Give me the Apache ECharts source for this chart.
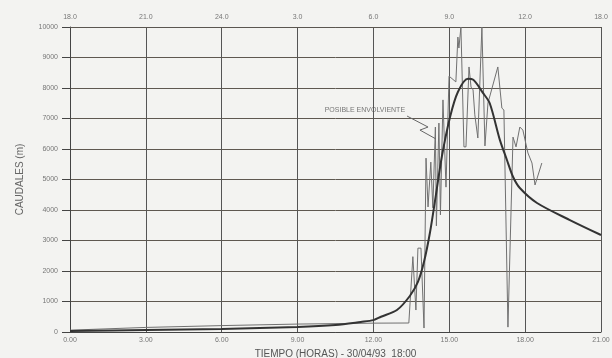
<!DOCTYPE html>
<html><head><meta charset="utf-8">
<script src="https://cdn.jsdelivr.net/npm/echarts@6/dist/echarts.min.js"></script>
<style>html,body{margin:0;padding:0;background:#f3f3f1}#c{width:612px;height:358px}</style>
</head><body><div id="c"></div>
<script>
// Observed discharge (thin line)
const obsTime = [0, 3, 6, 9, 12, 13.40, 13.56, 13.68, 13.76, 13.88, 14.00, 14.08, 14.16, 14.27, 14.35, 14.45, 14.49, 14.59, 14.65, 14.75, 14.87, 14.99, 15.26, 15.34, 15.38, 15.46, 15.50, 15.58, 15.66, 15.78, 15.86, 15.94, 16.01, 16.13, 16.29, 16.41, 16.53, 16.92, 17.08, 17.16, 17.32, 17.52, 17.64, 17.79, 17.91, 18.11, 18.27, 18.39, 18.66];
const obsFlow = [60, 150, 210, 260, 290, 295, 2470, 720, 2750, 2750, 130, 5700, 4100, 5570, 4070, 6720, 3480, 6850, 3840, 7610, 4750, 8390, 8200, 9670, 9310, 10000, 10000, 6070, 6070, 8690, 8030, 7940, 7120, 6360, 10000, 6100, 7510, 8690, 7340, 7280, 160, 6390, 6070, 6720, 6620, 5870, 5540, 4820, 5540];
// Possible envelope (thick smooth line)
const envTime = [0, 3, 6, 9, 10.5, 11.5, 12, 12.3, 12.93, 13.44, 13.76, 14.0, 14.24, 14.47, 14.71, 15.03, 15.34, 15.74, 15.95, 16.33, 16.6, 17.0, 17.28, 17.52, 17.79, 18.47, 19.77, 21];
const envFlow = [30, 65, 100, 165, 230, 330, 390, 500, 720, 1180, 1640, 2300, 3280, 4490, 5770, 7050, 7870, 8300, 8270, 7840, 7500, 6300, 5640, 5090, 4720, 4230, 3670, 3180];
// Annotation leader (zig-zag) in data units
const leaderTime = [13.33, 14.16, 13.84, 14.47];
const leaderFlow = [7080, 6720, 6620, 6330];
const annotationText = 'POSIBLE ENVOLVIENTE';
// Tick labels
const topLabels = ['18.0', '21.0', '24.0', '3.0', '6.0', '9.0', '12.0', '18.0'];
const yTicks = [0, 1000, 2000, 3000, 4000, 5000, 6000, 7000, 8000, 9000, 10000];

const zip = (a, b) => a.map((v, i) => [v, b[i]]);
const font = 'Liberation Sans, Arial, sans-serif';
const chart = echarts.init(document.getElementById('c'), null, {renderer: 'canvas'});

chart.setOption({
  backgroundColor: '#f3f3f1',
  animation: false,
  grid: {left: 70, right: 11, top: 27, bottom: 26, containLabel: false, outerBoundsMode: 'none'},
  xAxis: [{
    type: 'value', min: 0, max: 21, interval: 3, position: 'bottom',
    name: 'TIEMPO (HORAS) - 30/04/93  18:00', nameLocation: 'middle', nameGap: 15,
    nameTextStyle: {color: '#555', fontSize: 10, fontFamily: font},
    axisLine: {show: true, lineStyle: {color: '#444', width: 1}},
    axisTick: {show: false},
    axisLabel: {color: '#777', fontSize: 7, fontFamily: font, margin: 5, formatter: v => v.toFixed(2)},
    splitLine: {show: true, lineStyle: {color: '#555', width: 1}}
  }, {
    type: 'value', min: 0, max: 21, interval: 3, position: 'top',
    axisLine: {show: true, lineStyle: {color: '#5a5650', width: 1}},
    axisTick: {show: false},
    axisLabel: {color: '#777', fontSize: 7, fontFamily: font, margin: 6, formatter: v => topLabels[Math.round(v / 3)]},
    splitLine: {show: false}
  }],
  yAxis: {
    type: 'value', min: 0, max: 10000, interval: 1000,
    name: 'CAUDALES (m)', nameLocation: 'middle', nameGap: 45, nameRotate: 90,
    nameTextStyle: {color: '#666', fontSize: 10, fontFamily: font},
    axisLine: {show: true, lineStyle: {color: '#444', width: 1}},
    axisTick: {show: true, length: 8, lineStyle: {color: '#444'}},
    axisLabel: {color: '#777', fontSize: 7, fontFamily: font, margin: 12, formatter: v => yTicks.includes(v) ? String(v) : ''},
    splitLine: {show: true, lineStyle: {color: '#5e5850', width: 1}}
  },
  series: [{
    name: 'observed', type: 'line', data: zip(obsTime, obsFlow), showSymbol: false, symbol: 'none',
    lineStyle: {color: '#707070', width: 1}, z: 3, clip: true
  }, {
    name: 'envelope', type: 'line', data: zip(envTime, envFlow), showSymbol: false, symbol: 'none', smooth: 0.3,
    lineStyle: {color: '#333', width: 2}, z: 4
  }, {
    name: 'leader', type: 'line', data: zip(leaderTime, leaderFlow), symbol: 'none', showSymbol: false,
    lineStyle: {color: '#666', width: 1}, z: 5
  }, {
    name: 'annotation', type: 'scatter', data: [[leaderTime[0], leaderFlow[0]]], symbolSize: 0, z: 6,
    label: {show: true, formatter: annotationText, position: 'left', distance: 2, offset: [0, -6], color: '#555', fontSize: 7, fontFamily: font}
  }]
});
</script></body></html>
